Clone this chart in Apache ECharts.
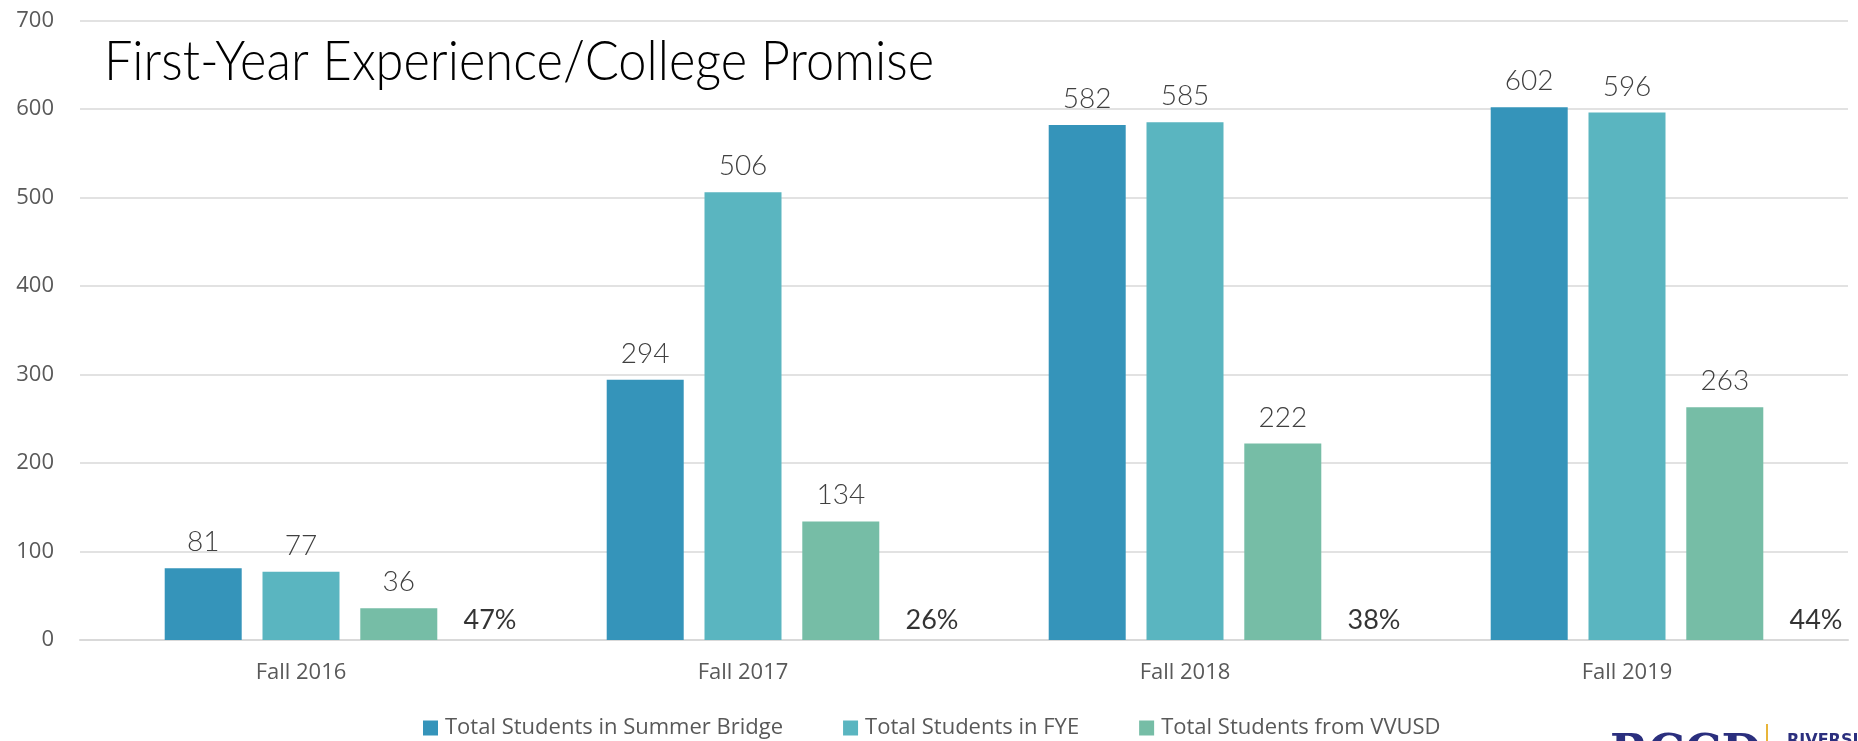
<!DOCTYPE html>
<html>
<head>
<meta charset="utf-8">
<script src="https://cdn.jsdelivr.net/npm/echarts@6/dist/echarts.min.js"></script>
<style>
html,body{margin:0;padding:0;background:#fff;}
#chart{width:1858px;height:741px;}
</style>
</head>
<body>
<div id="chart"></div>
<script>
const categories = ["Fall 2016", "Fall 2017", "Fall 2018", "Fall 2019"];
const summerBridge = [81, 294, 582, 602];
const fye = [77, 506, 585, 596];
const vvusd = [36, 134, 222, 263];
const percentLabels = ["47%", "26%", "38%", "44%"];
const seriesNames = ["Total Students in Summer Bridge", "Total Students in FYE", "Total Students from VVUSD"];
const titleText = "First-Year Experience/College Promise";

const colors = ["#3594BA", "#5AB5C0", "#76BDA6"];
const FONT = "Lato, 'Open Sans', sans-serif";
const OS = "'Open Sans', sans-serif";

// measure title width to compress like the narrow original font
const cv = document.createElement("canvas").getContext("2d");
cv.font = "300 55px Lato";
const tw = cv.measureText(titleText).width;
const titleScale = 830 / tw;

const chart = echarts.init(document.getElementById("chart"), null, {renderer: "canvas"});

function barSeries(name, data, color) {
  return {
    name: name,
    type: "bar",
    data: data,
    barWidth: 77,
    barGap: "27%",
    itemStyle: {color: color},
    label: {
      show: true,
      position: "top",
      distance: 12,
      fontFamily: FONT,
      fontWeight: 300,
      fontSize: 28,
      color: "#404040"
    }
  };
}

chart.setOption({
  animation: false,
  color: colors,
  grid: {left: 80, right: 10, top: 20.5, bottom: 101, containLabel: false},
  xAxis: {
    type: "category",
    data: categories,
    axisLine: {lineStyle: {color: "#d9d9d9", width: 2}},
    axisTick: {show: false},
    axisLabel: {fontFamily: OS, fontSize: 22, color: "#595959", margin: 22}
  },
  yAxis: {
    type: "value",
    min: 0, max: 700, interval: 100,
    axisLine: {show: false},
    axisTick: {show: false},
    axisLabel: {fontFamily: OS, fontSize: 22, color: "#595959", margin: 26},
    splitLine: {lineStyle: {color: "#d9d9d9", width: 1.5}}
  },
  legend: {
    data: seriesNames,
    left: 418,
    top: 712,
    icon: "rect",
    itemWidth: 15,
    itemHeight: 15,
    itemGap: 60,
    textStyle: {fontFamily: OS, fontSize: 22, color: "#595959", padding: [0, 0, 0, 2]}
  },
  series: [
    barSeries(seriesNames[0], summerBridge, colors[0]),
    barSeries(seriesNames[1], fye, colors[1]),
    barSeries(seriesNames[2], vvusd, colors[2]),
    {
      name: "pct",
      type: "scatter",
      data: percentLabels.map(function () { return 0; }),
      symbolSize: 0,
      silent: true,
      label: {
        show: true,
        position: "inside",
        offset: [189, -20],
        formatter: function (p) { return percentLabels[p.dataIndex]; },
        fontFamily: FONT,
        fontSize: 27,
        color: "#000000"
      }
    }
  ],
  graphic: [
    {
      type: "text",
      left: 104,
      top: 35,
      scaleX: titleScale,
      style: {text: titleText, font: "300 55px Lato", fill: "#000000"}
    },
    {
      type: "text",
      left: 1610,
      top: 732,
      style: {text: "RCCD", font: "bold 46px 'DejaVu Serif', serif", fill: "#2B2F7E"}
    },
    {
      type: "rect",
      shape: {x: 1766, y: 724, width: 2, height: 20},
      style: {fill: "#E8B53A"}
    },
    {
      type: "text",
      left: 1787,
      top: 733,
      style: {text: "RIVERSIDE", font: "bold 16px 'DejaVu Sans', sans-serif", fill: "#2B2F7E"}
    }
  ]
});
</script>
</body>
</html>
